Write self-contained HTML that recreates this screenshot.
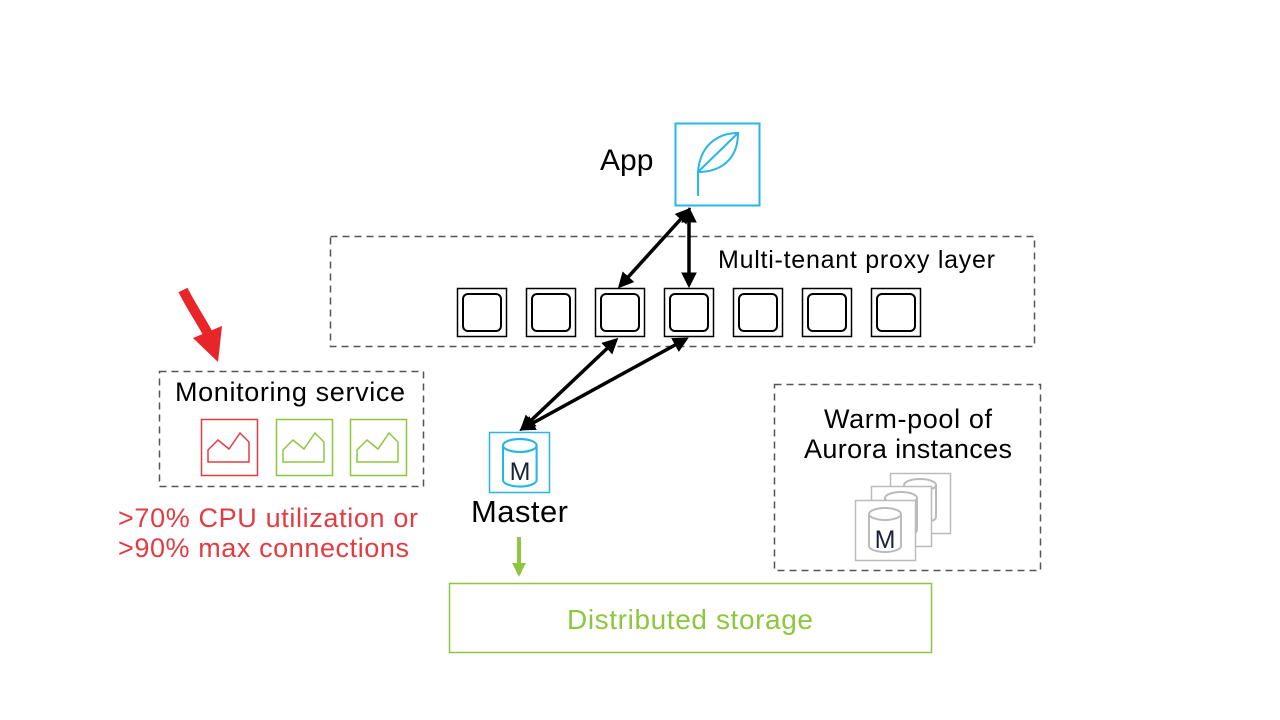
<!DOCTYPE html>
<html><head><meta charset="utf-8"><style>html,body{margin:0;padding:0;background:#fff}svg{display:block}</style></head>
<body>
<svg width="1280" height="720" viewBox="0 0 1280 720" xmlns="http://www.w3.org/2000/svg" font-family="Liberation Sans, sans-serif">
<defs>
<marker id="ah" viewBox="0 0 10 10" refX="8" refY="5" markerWidth="4.5" markerHeight="4.5" orient="auto-start-reverse"><path d="M0,0 L10,5 L0,10 z" fill="#000"/></marker>
<marker id="gh" viewBox="0 0 10 10" refX="8" refY="5" markerWidth="3.5" markerHeight="3.5" orient="auto"><path d="M0,0 L10,5 L0,10 z" fill="#8dc63f"/></marker>
<g id="cyl" fill="none" stroke-width="2">
<path d="M0,6 L0,38 A16,6 0 0 0 32,38 L32,6"/>
<ellipse cx="16" cy="6" rx="16" ry="6"/>
</g>
</defs>

<!-- App -->
<text x="600" y="170" font-size="30">App</text>
<rect x="675.5" y="123.5" width="84" height="82" fill="none" stroke="#29b5e8" stroke-width="2"/>
<path d="M698,196 V172 C700,145 718,133 738,133 C738,160 720,172 698,172 M698,172 L738,133" fill="none" stroke="#29b5e8" stroke-width="2"/>

<!-- proxy layer -->
<rect x="330.5" y="236.5" width="704" height="110" fill="none" stroke="#555" stroke-width="1.5" stroke-dasharray="7,5"/>
<text x="718" y="268" font-size="25" textLength="277">Multi-tenant proxy layer</text>
<g fill="none" stroke="#000">
<rect x="457.5" y="288.5" width="49" height="48" stroke-width="1.5"/><rect x="463" y="294" width="38" height="37" rx="5" stroke-width="2"/>
<rect x="526.5" y="288.5" width="49" height="48" stroke-width="1.5"/><rect x="532" y="294" width="38" height="37" rx="5" stroke-width="2"/>
<rect x="595.5" y="288.5" width="49" height="48" stroke-width="1.5"/><rect x="601" y="294" width="38" height="37" rx="5" stroke-width="2"/>
<rect x="664.5" y="288.5" width="49" height="48" stroke-width="1.5"/><rect x="670" y="294" width="38" height="37" rx="5" stroke-width="2"/>
<rect x="733.5" y="288.5" width="49" height="48" stroke-width="1.5"/><rect x="739" y="294" width="38" height="37" rx="5" stroke-width="2"/>
<rect x="802.5" y="288.5" width="49" height="48" stroke-width="1.5"/><rect x="808" y="294" width="38" height="37" rx="5" stroke-width="2"/>
<rect x="871.5" y="288.5" width="49" height="48" stroke-width="1.5"/><rect x="877" y="294" width="38" height="37" rx="5" stroke-width="2"/>
</g>

<!-- black arrows -->
<g stroke="#000" stroke-width="3.5" fill="none">
<line x1="689" y1="210" x2="620" y2="286" marker-start="url(#ah)" marker-end="url(#ah)"/>
<line x1="689" y1="210" x2="689" y2="285" marker-start="url(#ah)" marker-end="url(#ah)"/>
<line x1="522" y1="429" x2="616" y2="340" marker-start="url(#ah)" marker-end="url(#ah)"/>
<line x1="522" y1="429" x2="686" y2="339" marker-start="url(#ah)" marker-end="url(#ah)"/>
</g>

<!-- Monitoring -->
<path d="M183,290 C192,308 202,322 208,334" fill="none" stroke="#e8262a" stroke-width="10"/>
<path d="M193,338 L222,326 L218,362 z" fill="#e8262a"/>
<rect x="159.5" y="371.5" width="264" height="115" fill="none" stroke="#555" stroke-width="1.5" stroke-dasharray="7,5"/>
<text x="175" y="401" font-size="27" textLength="230">Monitoring service</text>
<rect x="201.5" y="419.5" width="56" height="56" fill="none" stroke="#e23c42" stroke-width="1.5"/>
<path d="M208,462 V450 L218,440 L229,449 L240,433 L249,442 V462 z" fill="none" stroke="#e23c42" stroke-width="1.5"/>
<rect x="276.5" y="419.5" width="56" height="56" fill="none" stroke="#8dc63f" stroke-width="1.5"/>
<path d="M283,462 V450 L293,440 L304,449 L315,433 L324,442 V462 z" fill="none" stroke="#8dc63f" stroke-width="1.5"/>
<rect x="350.5" y="419.5" width="56" height="56" fill="none" stroke="#8dc63f" stroke-width="1.5"/>
<path d="M357,462 V450 L367,440 L378,449 L389,433 L398,442 V462 z" fill="none" stroke="#8dc63f" stroke-width="1.5"/>
<text x="118" y="527" font-size="27" fill="#e23c42" textLength="300">&gt;70% CPU utilization or</text>
<text x="118" y="557" font-size="27" fill="#e23c42" textLength="291">&gt;90% max connections</text>

<!-- Master -->
<rect x="489.5" y="432.5" width="60" height="60" fill="none" stroke="#29b5e8" stroke-width="1.5"/>
<g transform="translate(503,439) scale(1.05,1.08)" stroke="#29b5e8"><use href="#cyl"/></g>
<text x="520" y="480" font-size="25" text-anchor="middle" fill="#1a2236">M</text>
<text x="471" y="522" font-size="31" textLength="97">Master</text>

<!-- green arrow & storage -->
<line x1="519" y1="537" x2="519" y2="574" stroke="#8dc63f" stroke-width="4" marker-end="url(#gh)"/>
<rect x="449.5" y="583.5" width="482" height="69" fill="none" stroke="#8dc63f" stroke-width="1.5"/>
<text x="690" y="629" font-size="28" text-anchor="middle" fill="#8dc63f" textLength="246">Distributed storage</text>

<!-- Warm pool -->
<rect x="774.5" y="384.5" width="266" height="186" fill="none" stroke="#555" stroke-width="1.5" stroke-dasharray="7,5"/>
<text x="908" y="428" font-size="27" text-anchor="middle" textLength="168">Warm-pool of</text>
<text x="908" y="458" font-size="27" text-anchor="middle" textLength="208">Aurora instances</text>
<g stroke="#bbb" fill="#fff">
<rect x="890.5" y="473.5" width="60" height="60" stroke-width="1.5"/>
<g transform="translate(904,479)"><use href="#cyl"/></g>
<rect x="871.5" y="486.5" width="60" height="60" stroke-width="1.5"/>
<g transform="translate(885,492)"><use href="#cyl"/></g>
<rect x="855.5" y="500.5" width="60" height="60" stroke-width="1.5"/>
<g transform="translate(869,508)"><use href="#cyl"/></g>
</g>
<text x="885" y="548" font-size="25" text-anchor="middle" fill="#1a2236">M</text>
</svg>
</body></html>
